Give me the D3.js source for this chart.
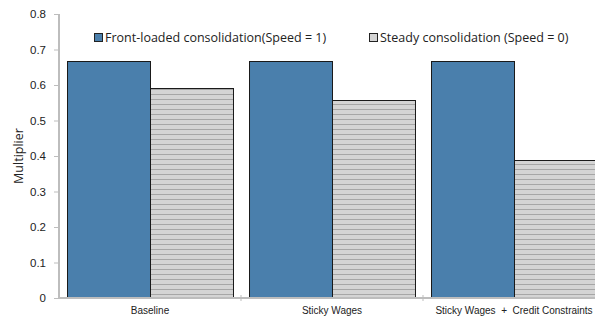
<!DOCTYPE html>
<html>
<head>
<meta charset="utf-8">
<script src="https://cdn.jsdelivr.net/npm/d3@7"></script>
<style>
  html, body { margin: 0; padding: 0; background: #fff; overflow: hidden; }
  svg { display: block; font-family: "Open Sans", "DejaVu Sans", sans-serif; }
  .xlab text { white-space: pre; }
</style>
</head>
<body>
<svg id="chart" width="595" height="322"></svg>
<script>
// Fiscal multipliers by model variant and consolidation speed
const categories = ["Baseline", "Sticky Wages", "Sticky Wages  +  Credit Constraints"];
const seriesNames = ["Front-loaded consolidation(Speed = 1)", "Steady consolidation (Speed = 0)"];
const frontLoaded = [0.668, 0.668, 0.668];
const steady = [0.592, 0.559, 0.389];
const yTicks = [0, 0.1, 0.2, 0.3, 0.4, 0.5, 0.6, 0.7, 0.8];

const svg = d3.select("#chart");
const margin = { left: 59, top: 14, bottom: 24 };
const plotW = 546;
const H = 322;

const x0 = d3.scaleBand()
  .domain(categories)
  .range([margin.left, margin.left + plotW])
  .paddingInner(0.088)
  .paddingOuter(0.044);

const x1 = d3.scaleBand()
  .domain([0, 1])
  .range([0, x0.bandwidth()])
  .padding(0);

const y = d3.scaleLinear()
  .domain([0, 0.8])
  .range([H - margin.bottom, margin.top]);

// hatch pattern for the steady-consolidation bars
const defs = svg.append("defs");
const pat = defs.append("pattern")
  .attr("id", "hatch")
  .attr("patternUnits", "userSpaceOnUse")
  .attr("width", 6).attr("height", 5);
pat.append("rect").attr("width", 6).attr("height", 5).attr("fill", "#d4d4d4");
pat.append("rect").attr("y", 4).attr("width", 6).attr("height", 1).attr("fill", "#a6a6a6");

const fills = ["#4a7fac", "url(#hatch)"];

// y axis
const yAxis = svg.append("g")
  .attr("transform", `translate(${margin.left},0)`)
  .call(d3.axisLeft(y).tickValues(yTicks).tickSize(5).tickPadding(8)
    .tickFormat(d => d === 0 ? "0" : d3.format(".1f")(d)));
yAxis.select(".domain").attr("stroke", "#bdbdbd").attr("stroke-width", 2)
  .attr("d", `M0,${y(0.8)}V${y(0)}`);
yAxis.selectAll(".tick line").attr("stroke", "#bdbdbd");
yAxis.selectAll(".tick text").attr("font-size", 11.5).attr("fill", "#222");

// bars
const groups = svg.append("g").selectAll("g")
  .data(categories)
  .join("g")
  .attr("transform", d => `translate(${x0(d)},0)`);

groups.selectAll("rect")
  .data((d, i) => [frontLoaded[i], steady[i]].map((v, s) => ({ v, s })))
  .join("rect")
  .attr("x", d => x1(d.s) + 0.5)
  .attr("y", d => Math.round(y(d.v)) + 0.5)
  .attr("width", x1.bandwidth())
  .attr("height", d => y(0) - Math.round(y(d.v)) - 0.5)
  .attr("fill", d => fills[d.s])
  .attr("stroke", "#1a1a1a")
  .attr("stroke-width", 1);

// x axis
const xAxis = svg.append("g")
  .attr("class", "xlab")
  .attr("transform", `translate(0,${y(0)})`)
  .call(d3.axisBottom(x0).tickSize(0).tickPadding(9));
xAxis.select(".domain").attr("stroke", "#bdbdbd").attr("stroke-width", 2)
  .attr("d", `M${margin.left},0H${margin.left + plotW}`);
xAxis.selectAll(".tick text").attr("font-size", 10).attr("fill", "#222");
// separators between category groups
xAxis.selectAll(".sep")
  .data(categories.slice(1))
  .join("line")
  .attr("class", "sep")
  .attr("x1", d => x0(d) - x0.step() * x0.paddingInner() / 2)
  .attr("x2", d => x0(d) - x0.step() * x0.paddingInner() / 2)
  .attr("y1", -3).attr("y2", 3)
  .attr("stroke", "#bdbdbd");

// y axis title
svg.append("text")
  .attr("transform", `translate(23,${(y(0) + y(0.8)) / 2}) rotate(-90)`)
  .attr("text-anchor", "middle")
  .attr("font-size", 12.5)
  .attr("fill", "#222")
  .text("Multiplier");

// legend
const legendX = [94, 369];
const legend = svg.append("g").selectAll("g")
  .data(seriesNames)
  .join("g")
  .attr("transform", (d, i) => `translate(${legendX[i]},33)`);
legend.append("rect")
  .attr("x", 0.5).attr("y", 0.5)
  .attr("width", 8).attr("height", 8)
  .attr("fill", (d, i) => i === 0 ? "#4a7fac" : "#d4d4d4")
  .attr("stroke", "#222");
legend.append("text")
  .attr("x", 11).attr("y", 9)
  .attr("font-size", 12.5)
  .attr("fill", "#222")
  .text(d => d);
</script>
</body>
</html>
